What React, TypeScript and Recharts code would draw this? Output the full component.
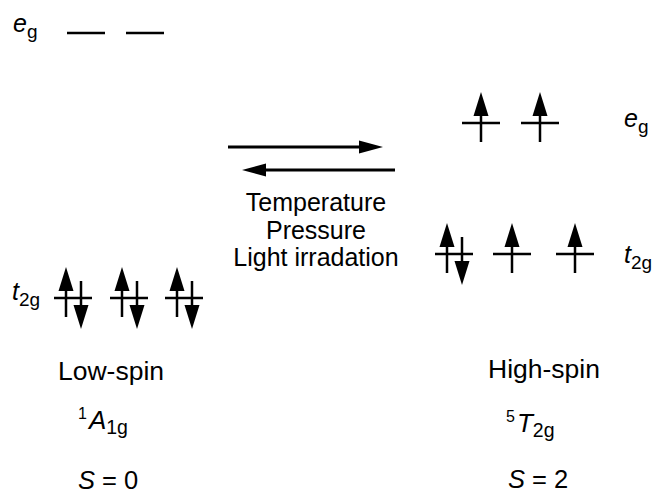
import React from 'react';
import { ScatterChart, XAxis, YAxis, Scatter, ReferenceLine } from 'recharts';

const W = 655;
const H = 493;
const FONT = '"Liberation Sans", Arial, Helvetica, sans-serif';

// ---- orbital sets (diagram coordinates: x = column, y = level; y grows downward) ----
const lsEgX = [86, 145];
const lsEgY = 33;
const lsEgOcc = ['', ''];

const lsT2gX = [73, 129, 184];
const lsT2gY = 298;
const lsT2gOcc = ['pair', 'pair', 'pair'];

const hsEgX = [481, 540];
const hsEgY = 123;
const hsEgOcc = ['up', 'up'];

const hsT2gX = [454, 512, 575];
const hsT2gY = 254;
const hsT2gOcc = ['pair', 'up', 'up'];

// ---- labels ----
const orbitalLabels = [
  { x: 13, y: 32, sym: 'e', sub: 'g' },
  { x: 12, y: 300, sym: 't', sub: '2g' },
  { x: 624, y: 127, sym: 'e', sub: 'g' },
  { x: 624, y: 263, sym: 't', sub: '2g' },
];
const stateLabels = [
  { x: 111, y: 380, text: 'Low-spin' },
  { x: 544, y: 378, text: 'High-spin' },
];
const termLabels = [
  { x: 78, y: 429, mult: '1', sym: 'A', sub: '1g' },
  { x: 506, y: 432, mult: '5', sym: 'T', sub: '2g' },
];
const spinLabels = [
  { x: 78, y: 489, sym: 'S', value: '0' },
  { x: 508, y: 488, sym: 'S', value: '2' },
];
const conditions = ['Temperature', 'Pressure', 'Light irradation'];
const conditionAnchor = [{ x: 316, y: 211 }];

// equilibrium arrows
const forwardArrow = { x1: 228, x2: 383, y: 147 };
const reverseArrow = { x1: 395, x2: 242, y: 170 };

// ---- geometry of an orbital level / electron arrow (diagram units) ----
const HALF = 19;
const UP_TIP = -31;
const UP_TAIL = 19;
const DN_TAIL = -17;
const DN_TIP = 31;
const PAIR_UP_DX = -7;
const PAIR_DN_DX = 8;
const HEAD = 12;

type Spin = { x: number; tip: number; tail: number; dir: 'up' | 'down' };

function spinsFor(xs: number[], y: number, occ: string[]): Spin[] {
  const out: Spin[] = [];
  xs.forEach((x, i) => {
    if (occ[i] === 'up') {
      out.push({ x, tip: y + UP_TIP, tail: y + UP_TAIL, dir: 'up' });
    } else if (occ[i] === 'pair') {
      out.push({ x: x + PAIR_UP_DX, tip: y + UP_TIP, tail: y + UP_TAIL, dir: 'up' });
      out.push({ x: x + PAIR_DN_DX, tip: y + DN_TIP, tail: y + DN_TAIL, dir: 'down' });
    }
  });
  return out;
}

const levelSets = [
  { xs: lsEgX, y: lsEgY, occ: lsEgOcc },
  { xs: lsT2gX, y: lsT2gY, occ: lsT2gOcc },
  { xs: hsEgX, y: hsEgY, occ: hsEgOcc },
  { xs: hsT2gX, y: hsT2gY, occ: hsT2gOcc },
];

const levels = levelSets.flatMap((s) => s.xs.map((x) => ({ x1: x - HALF, x2: x + HALF, y: s.y })));
const spins = levelSets.flatMap((s) => spinsFor(s.xs, s.y, s.occ));
const spinHeads = spins.map((s) => ({ x: s.x, y: s.tip, dir: s.dir }));
const midHeads = [
  { x: forwardArrow.x2, y: forwardArrow.y, dir: 'right' },
  { x: reverseArrow.x2, y: reverseArrow.y, dir: 'left' },
];

const Head = (p: any) => {
  const { cx, cy, payload } = p;
  const d = payload.dir;
  let pts = '';
  if (d === 'up') pts = `${cx},${cy} ${cx - 7.5},${cy + 24} ${cx + 7.5},${cy + 24}`;
  else if (d === 'down') pts = `${cx},${cy} ${cx - 7.5},${cy - 24} ${cx + 7.5},${cy - 24}`;
  else if (d === 'right') pts = `${cx},${cy} ${cx - 24},${cy - 6.5} ${cx - 24},${cy + 6.5}`;
  else pts = `${cx},${cy} ${cx + 24},${cy - 6.5} ${cx + 24},${cy + 6.5}`;
  return <polygon points={pts} fill="#000" />;
};

const OrbitalLabel = (p: any) => {
  const { cx, cy, payload } = p;
  return (
    <text x={cx} y={cy} fontFamily={FONT} fontSize={25} fill="#000">
      <tspan fontStyle="italic">{payload.sym}</tspan>
      <tspan fontSize={19} dy={6}>{payload.sub}</tspan>
    </text>
  );
};

const StateLabel = (p: any) => {
  const { cx, cy, payload } = p;
  return (
    <text x={cx} y={cy} fontFamily={FONT} fontSize={26.5} fill="#000" textAnchor="middle">
      {payload.text}
    </text>
  );
};

const TermLabel = (p: any) => {
  const { cx, cy, payload } = p;
  return (
    <text x={cx} y={cy} fontFamily={FONT} fill="#000">
      <tspan fontSize={16} dy={-10}>{payload.mult}</tspan>
      <tspan fontSize={26} fontStyle="italic" dy={10} dx={2}>{payload.sym}</tspan>
      <tspan fontSize={19.5} dy={5}>{payload.sub}</tspan>
    </text>
  );
};

const SpinLabel = (p: any) => {
  const { cx, cy, payload } = p;
  return (
    <text x={cx} y={cy} fontFamily={FONT} fontSize={25.5} fill="#000">
      <tspan fontStyle="italic">{payload.sym}</tspan>
      <tspan>{` = ${payload.value}`}</tspan>
    </text>
  );
};

const ConditionLabel = (p: any) => {
  const { cx, cy } = p;
  return (
    <text x={cx} y={cy} fontFamily={FONT} fontSize={25} fill="#000" textAnchor="middle">
      {conditions.map((c, i) => (
        <tspan key={c} x={cx} dy={i === 0 ? 0 : 27.5}>{c}</tspan>
      ))}
    </text>
  );
};

export default function App() {
  return (
    <div style={{ position: 'absolute', left: 0, top: 0, background: '#fff' }}>
      <ScatterChart width={W} height={H} margin={{ top: 0, right: 0, bottom: 0, left: 0 }}>
        <XAxis type="number" dataKey="x" domain={[0, W]} hide />
        <YAxis type="number" dataKey="y" domain={[0, H]} reversed hide />

        {levels.map((l, i) => (
          <ReferenceLine
            key={`lv${i}`}
            segment={[{ x: l.x1, y: l.y }, { x: l.x2, y: l.y }]}
            stroke="#000"
            strokeWidth={2.5}
          />
        ))}

        {spins.map((s, i) => (
          <ReferenceLine
            key={`sp${i}`}
            segment={[
              { x: s.x, y: s.tail },
              { x: s.x, y: s.dir === 'up' ? s.tip + HEAD : s.tip - HEAD },
            ]}
            stroke="#000"
            strokeWidth={2.5}
          />
        ))}

        <ReferenceLine
          segment={[{ x: forwardArrow.x1, y: forwardArrow.y }, { x: forwardArrow.x2 - HEAD, y: forwardArrow.y }]}
          stroke="#000"
          strokeWidth={3}
        />
        <ReferenceLine
          segment={[{ x: reverseArrow.x1, y: reverseArrow.y }, { x: reverseArrow.x2 + HEAD, y: reverseArrow.y }]}
          stroke="#000"
          strokeWidth={3}
        />

        <Scatter data={spinHeads} shape={Head} isAnimationActive={false} />
        <Scatter data={midHeads} shape={Head} isAnimationActive={false} />
        <Scatter data={orbitalLabels} shape={OrbitalLabel} isAnimationActive={false} />
        <Scatter data={stateLabels} shape={StateLabel} isAnimationActive={false} />
        <Scatter data={termLabels} shape={TermLabel} isAnimationActive={false} />
        <Scatter data={spinLabels} shape={SpinLabel} isAnimationActive={false} />
        <Scatter data={conditionAnchor} shape={ConditionLabel} isAnimationActive={false} />
      </ScatterChart>
    </div>
  );
}
